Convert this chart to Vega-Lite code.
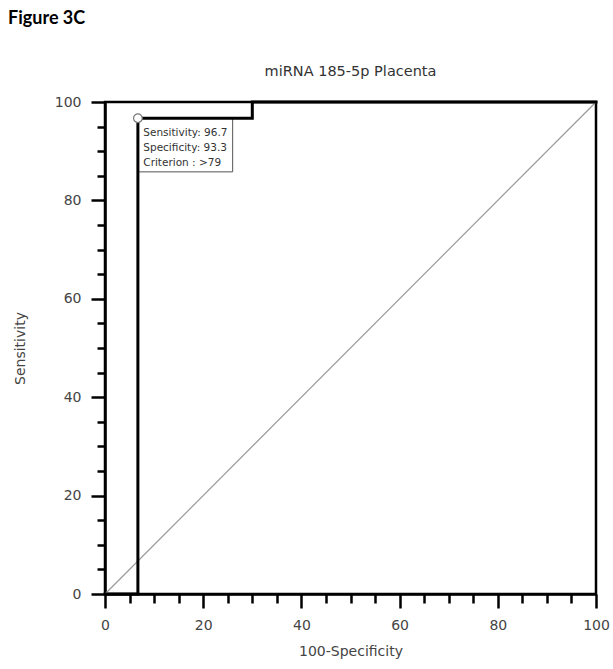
{
  "$schema": "https://vega.github.io/schema/vega-lite/v6.json",
  "background": "white",
  "padding": {"left": 8, "top": 10, "right": 10, "bottom": 5},
  "title": {"text": "Figure 3C", "anchor": "start", "frame": "bounds", "font": "Lato", "fontSize": 18, "fontWeight": "bold", "color": "#000000", "offset": 34, "dx": -4},
  "config": {
    "view": {"stroke": "#000000", "strokeWidth": 2.5},
    "axis": {
      "grid": false,
      "domainColor": "#000000",
      "domainWidth": 2.5,
      "tickColor": "#000000",
      "tickWidth": 2.5,
      "tickCount": 30,
      "labelFont": "DejaVu Sans",
      "labelFontSize": 14,
      "labelColor": "#444444",
      "titleFont": "DejaVu Sans",
      "titleFontSize": 14,
      "titleFontWeight": "normal",
      "titleColor": "#444444"
    }
  },
  "datasets": {
    "roc": [
      {"order": 1, "fpr": 0, "tpr": 0},
      {"order": 2, "fpr": 6.7, "tpr": 0},
      {"order": 3, "fpr": 6.7, "tpr": 96.7},
      {"order": 4, "fpr": 30, "tpr": 96.7},
      {"order": 5, "fpr": 30, "tpr": 100},
      {"order": 6, "fpr": 100, "tpr": 100}
    ],
    "diag": [
      {"fpr": 0, "tpr": 0},
      {"fpr": 100, "tpr": 100}
    ],
    "box": [
      {"x1": 6.7, "x2": 26, "y1": 85.8, "y2": 96.7}
    ],
    "cut": [
      {"fpr": 6.7, "tpr": 96.7}
    ],
    "notes": [
      {"fpr": 7.8, "tpr": 93.8, "label": "Sensitivity: 96.7"},
      {"fpr": 7.8, "tpr": 90.7, "label": "Specificity: 93.3"},
      {"fpr": 7.8, "tpr": 87.7, "label": "Criterion : >79"}
    ]
  },
  "vconcat": [
    {
      "width": 491,
      "height": 492,
      "title": {"text": "miRNA 185-5p Placenta", "font": "DejaVu Sans", "fontSize": 14.5, "fontWeight": "normal", "color": "#333333", "offset": 16},
      "layer": [
        {
          "data": {"name": "diag"},
          "mark": {"type": "line", "color": "#9a9a9a", "strokeWidth": 1.2},
          "encoding": {
            "x": {
              "field": "fpr", "type": "quantitative",
              "scale": {"domain": [0, 100], "nice": false, "zero": false},
              "axis": {
                "title": "100-Specificity",
                "values": [0, 5, 10, 15, 20, 25, 30, 35, 40, 45, 50, 55, 60, 65, 70, 75, 80, 85, 90, 95, 100],
                "tickCount": 30,
                "labelExpr": "datum.value % 20 === 0 ? datum.label : ''",
                "tickSize": {"condition": {"test": "datum.value % 20 !== 0", "value": 9}, "value": 14},
                "labelPadding": 10,
                "titlePadding": 12,
                "labelFlush": false,
                "labelOverlap": false
              }
            },
            "y": {
              "field": "tpr", "type": "quantitative",
              "scale": {"domain": [0, 100], "nice": false, "zero": false},
              "axis": {
                "title": "Sensitivity",
                "values": [0, 5, 10, 15, 20, 25, 30, 35, 40, 45, 50, 55, 60, 65, 70, 75, 80, 85, 90, 95, 100],
                "tickCount": 30,
                "labelExpr": "datum.value % 20 === 0 ? datum.label : ''",
                "tickSize": {"condition": {"test": "datum.value % 20 !== 0", "value": 8}, "value": 14},
                "labelPadding": 10,
                "titlePadding": 27,
                "labelFlush": false,
                "labelOverlap": false
              }
            }
          }
        },
        {
          "data": {"name": "box"},
          "mark": {"type": "rect", "fill": "#ffffff", "stroke": "#555555", "strokeWidth": 1},
          "encoding": {
            "x": {"field": "x1", "type": "quantitative"},
            "x2": {"field": "x2"},
            "y": {"field": "y1", "type": "quantitative"},
            "y2": {"field": "y2"}
          }
        },
        {
          "data": {"name": "roc"},
          "mark": {"type": "line", "color": "#000000", "strokeWidth": 3, "strokeJoin": "miter", "strokeCap": "square"},
          "encoding": {
            "x": {"field": "fpr", "type": "quantitative"},
            "y": {"field": "tpr", "type": "quantitative"},
            "order": {"field": "order", "type": "quantitative"}
          }
        },
        {
          "data": {"name": "cut"},
          "mark": {"type": "point", "shape": "circle", "size": 75, "filled": true, "fill": "#ffffff", "stroke": "#777777", "strokeWidth": 1.2, "opacity": 1},
          "encoding": {
            "x": {"field": "fpr", "type": "quantitative"},
            "y": {"field": "tpr", "type": "quantitative"}
          }
        },
        {
          "data": {"name": "notes"},
          "mark": {"type": "text", "align": "left", "baseline": "middle", "font": "DejaVu Sans", "fontSize": 10.5, "color": "#333333"},
          "encoding": {
            "x": {"field": "fpr", "type": "quantitative"},
            "y": {"field": "tpr", "type": "quantitative"},
            "text": {"field": "label", "type": "nominal"}
          }
        }
      ]
    }
  ]
}
